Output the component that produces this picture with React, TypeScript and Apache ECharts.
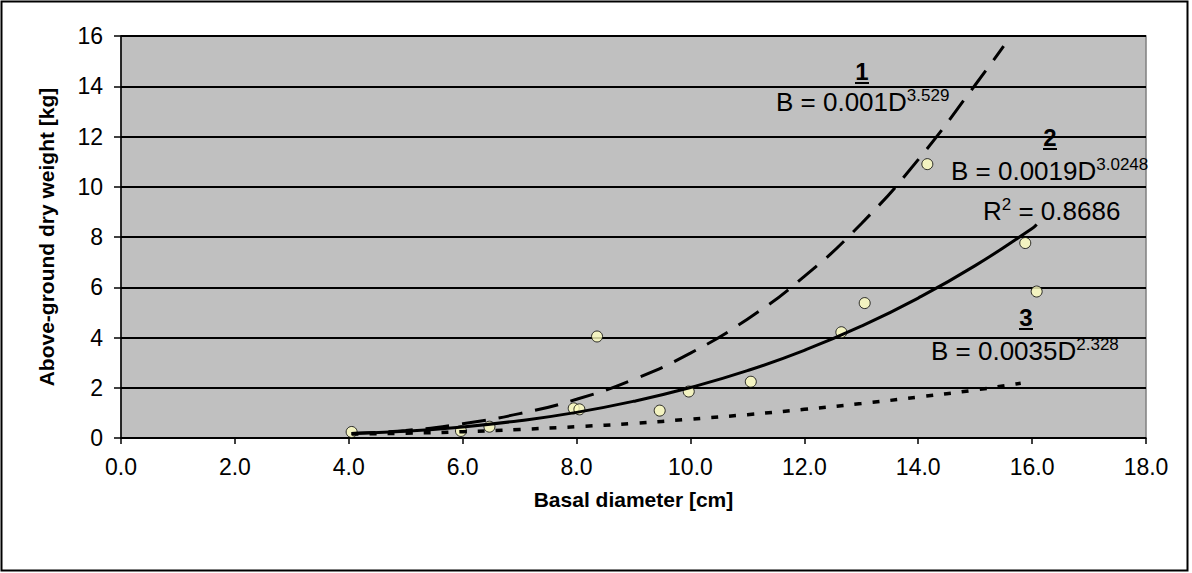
import React, { useEffect, useRef } from "react";
import * as echarts from "echarts";

// Observed samples
const diameters = [4.05, 5.97, 6.47, 7.95, 8.05, 8.36, 9.46, 9.97, 11.06, 12.65, 13.06, 14.16, 15.88, 16.08];
const weights = [0.24, 0.28, 0.45, 1.18, 1.14, 4.04, 1.09, 1.85, 2.24, 4.21, 5.37, 10.9, 7.76, 5.83];

// Curve 1 (dashed): B = 0.001D^3.529
const curve1D = [4.05, 5, 6, 7, 8, 9, 10, 11, 12, 13, 14, 15, 15.5];
const curve1B = [0.18, 0.3, 0.57, 0.97, 1.54, 2.33, 3.38, 4.73, 6.43, 8.53, 11.08, 14.05, 15.6];

// Curve 2 (solid): B = 0.0019D^3.0248
const curve2D = [4.05, 5, 6, 7, 8, 9, 10, 11, 12, 13, 14, 15, 16, 16.08];
const curve2B = [0.18, 0.27, 0.44, 0.69, 1.02, 1.46, 2.01, 2.68, 3.49, 4.45, 5.57, 6.86, 8.34, 8.5];

// Curve 3 (dotted): B = 0.0035D^2.328
const curve3D = [4.05, 5, 6, 7, 8, 9, 10, 11, 12, 13, 14, 15, 15.8];
const curve3B = [0.16, 0.19, 0.25, 0.34, 0.45, 0.58, 0.75, 0.93, 1.14, 1.37, 1.63, 1.91, 2.18];

const xTitle = "Basal diameter [cm]";
const yTitle = "Above-ground dry weight [kg]";

const FONT = "'Liberation Sans', Arial, sans-serif";

const pairs = (xs: number[], ys: number[]) => xs.map((x, i) => [x, ys[i]]);

const eqRich = {
  m: { fontSize: 26, fontFamily: FONT, color: "#000", lineHeight: 28, verticalAlign: "bottom" },
  s: { fontSize: 17, fontFamily: FONT, color: "#000", lineHeight: 17, verticalAlign: "top" },
};

function eqText(text: string, x: number, y: number) {
  return {
    type: "text",
    x,
    y,
    z: 100,
    style: {
      text,
      rich: eqRich,
      textAlign: "left",
      textVerticalAlign: "middle",
    },
  };
}

function numLabel(text: string, cx: number, cy: number) {
  return [
    {
      type: "text",
      x: cx,
      y: cy,
      z: 100,
      style: {
        text,
        font: `bold 24px ${FONT}`,
        fill: "#000",
        textAlign: "center",
        textVerticalAlign: "middle",
      },
    },
    {
      type: "line",
      z: 100,
      shape: { x1: cx - 7, y1: cy + 12, x2: cx + 7, y2: cy + 12 },
      style: { stroke: "#000", lineWidth: 2 },
    },
  ];
}

export default function App() {
  const ref = useRef<HTMLDivElement>(null);
  useEffect(() => {
    document.body.style.margin = "0";
    const chart = echarts.init(ref.current!, null, { renderer: "svg" });
    chart.setOption({
      animation: false,
      backgroundColor: "#fff",
      grid: {
        left: 121,
        right: 46,
        top: 36,
        bottom: 135,
        show: true,
        backgroundColor: "#C0C0C0",
        borderColor: "#808080",
        borderWidth: 1.5,
      },
      xAxis: {
        type: "value",
        min: 0,
        max: 18,
        interval: 2,
        name: xTitle,
        nameLocation: "middle",
        nameGap: 51,
        nameTextStyle: { fontFamily: FONT, fontWeight: "bold", fontSize: 21, color: "#000" },
        axisLine: { show: true, onZero: false, lineStyle: { color: "#000", width: 1.5 } },
        axisTick: { show: true, length: 6, lineStyle: { color: "#000", width: 1.5 } },
        axisLabel: {
          fontFamily: FONT,
          fontSize: 23,
          color: "#000",
          margin: 17,
          formatter: (v: number) => v.toFixed(1),
        },
        splitLine: { show: false },
      },
      yAxis: {
        type: "value",
        min: 0,
        max: 16,
        interval: 2,
        name: yTitle,
        nameLocation: "middle",
        nameGap: 64,
        nameRotate: 90,
        nameTextStyle: { fontFamily: FONT, fontWeight: "bold", fontSize: 21, color: "#000" },
        axisLine: { show: true, onZero: false, lineStyle: { color: "#000", width: 1.5 } },
        axisTick: { show: true, length: 7, lineStyle: { color: "#000", width: 1.5 } },
        axisLabel: { fontFamily: FONT, fontSize: 23, color: "#000", margin: 18 },
        splitLine: { show: true, lineStyle: { color: "#000", width: 2 } },
      },
      series: [
        {
          type: "scatter",
          data: pairs(diameters, weights),
          symbol: "circle",
          symbolSize: 11,
          itemStyle: { color: "#FFFFC0", borderColor: "#000", borderWidth: 1 },
          z: 2,
        },
        {
          type: "line",
          data: pairs(curve1D, curve1B),
          showSymbol: false,
          smooth: true,
          lineStyle: { color: "#000", width: 3, type: [24, 13] },
          z: 3,
        },
        {
          type: "line",
          data: pairs(curve2D, curve2B),
          showSymbol: false,
          smooth: true,
          lineStyle: { color: "#000", width: 3, type: "solid" },
          z: 3,
        },
        {
          type: "line",
          data: pairs(curve3D, curve3B),
          showSymbol: false,
          smooth: true,
          lineStyle: { color: "#000", width: 3.5, type: [7, 11] },
          z: 3,
        },
      ],
      graphic: [
        {
          type: "rect",
          z: 200,
          shape: { x: 1.5, y: 1.5, width: 1186, height: 569 },
          style: { fill: "none", stroke: "#000", lineWidth: 2 },
        },
        ...numLabel("1", 862, 71),
        eqText("{m|B = 0.001D}{s|3.529}", 776, 101),
        ...numLabel("2", 1050, 137),
        eqText("{m|B = 0.0019D}{s|3.0248}", 951, 170),
        eqText("{m|R}{s|2}{m| = 0.8686}", 983, 210),
        ...numLabel("3", 1026, 317),
        eqText("{m|B = 0.0035D}{s|2.328}", 931, 350),
      ],
    });
    return () => chart.dispose();
  }, []);
  return <div ref={ref} style={{ width: 1192, height: 573 }} />;
}
